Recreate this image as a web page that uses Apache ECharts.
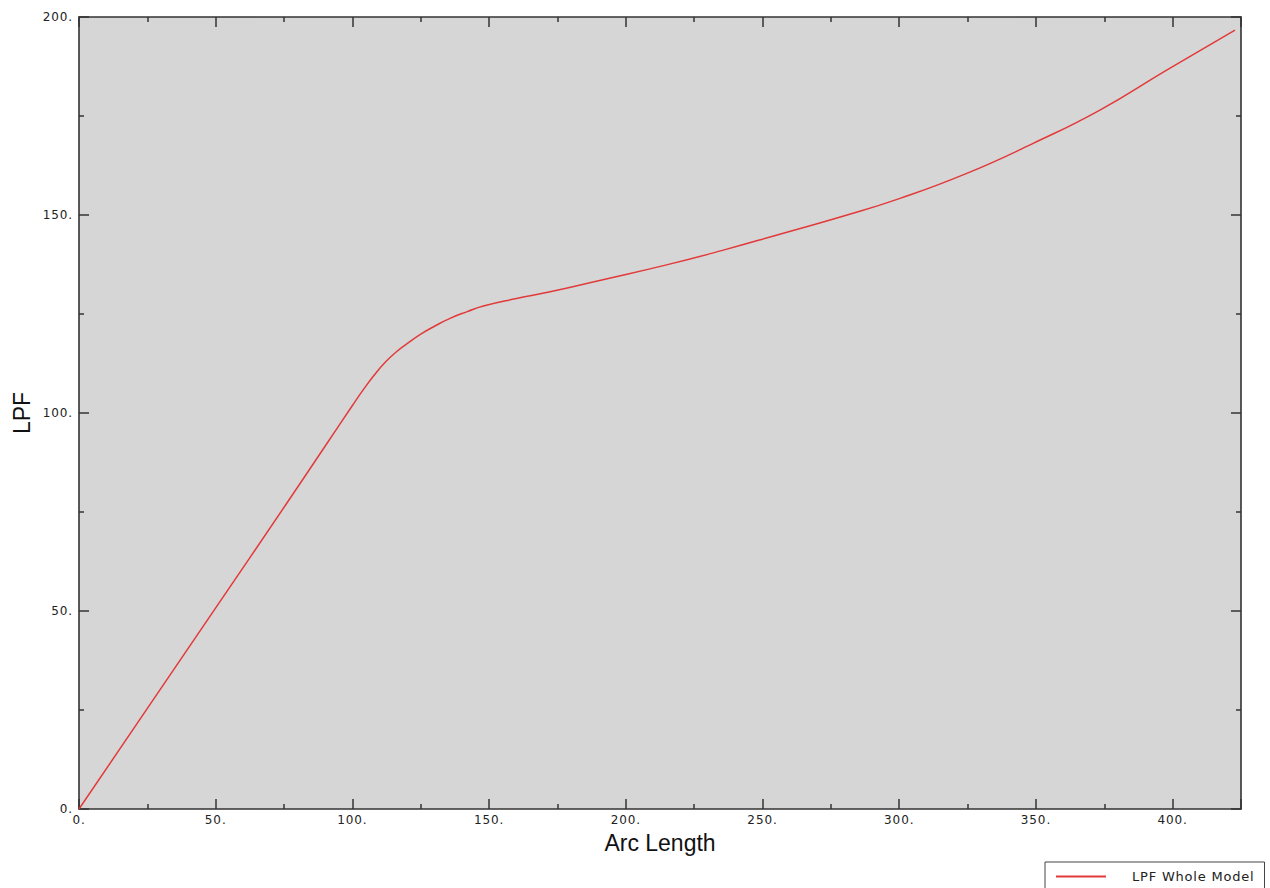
<!DOCTYPE html>
<html>
<head>
<meta charset="utf-8">
<script src="https://cdn.jsdelivr.net/npm/echarts@6/dist/echarts.min.js"></script>
<style>
html,body{margin:0;padding:0;background:#fff}
#c{width:1270px;height:888px}
#c text[style*="12px"]{letter-spacing:0.9px}
#c text[style*="13px"]{letter-spacing:0.8px}
</style>
</head>
<body>
<div id="c"></div>
<script>
var seriesName = 'LPF Whole Model';
var arcLength = [0, 25, 50, 75, 90, 100, 104, 108, 112, 116, 120, 125, 130, 135.7, 142, 147.9, 160, 172.3, 190, 214.9, 235, 257.6, 280, 300.3, 324.7, 349, 373.4, 397.8, 422.8];
var lpf       = [0, 25.4, 50.8, 76.2, 91.6, 101.9, 105.9, 109.6, 112.8, 115.4, 117.5, 119.9, 121.9, 123.9, 125.6, 127.0, 128.9, 130.6, 133.4, 137.4, 141.0, 145.4, 149.8, 154.2, 160.5, 168.1, 176.5, 186.6, 196.7];
var xTicks = [0, 50, 100, 150, 200, 250, 300, 350, 400];
var yTicks = [0, 50, 100, 150, 200];

var chart = echarts.init(document.getElementById('c'), null, {renderer: 'svg'});
var pts = arcLength.map(function (x, i) { return [x, lpf[i]]; });
var labelFont = {fontFamily: 'DejaVu Sans', fontSize: 12, color: '#222'};
var axisLine = {show: true, onZero: false, lineStyle: {color: '#333', width: 1.6}};
var tickStyle = {color: '#333', width: 1.5};
function tickFmt(v) { return v + '.'; }

chart.setOption({
  animation: false,
  backgroundColor: '#fff',
  grid: {left: 79, right: 29, top: 17, bottom: 79, show: true, backgroundColor: '#d6d6d6', borderWidth: 0},
  legend: {
    data: [seriesName],
    left: 1045, top: 862,
    padding: [8, 22, 10, 10],
    borderColor: '#444', borderWidth: 1, borderRadius: 0,
    itemWidth: 50, itemHeight: 14,
    itemStyle: {opacity: 0},
    textStyle: {fontFamily: 'DejaVu Sans', fontSize: 13, color: '#222', padding: [0, 0, 0, 21]}
  },
  xAxis: [{
    type: 'value', min: 0, max: 425, interval: 50,
    name: 'Arc Length', nameLocation: 'middle', nameGap: 22,
    nameTextStyle: {fontFamily: 'Liberation Sans', fontSize: 23, color: '#111'},
    axisLine: axisLine,
    axisTick: {show: true, inside: true, length: 10, lineStyle: tickStyle},
    minorTick: {show: true, splitNumber: 2, length: 5, lineStyle: tickStyle},
    axisLabel: Object.assign({formatter: tickFmt, margin: 5, customValues: xTicks}, labelFont),
    splitLine: {show: false}
  }, {
    type: 'value', position: 'top', min: 0, max: 425, interval: 50,
    axisLine: axisLine,
    axisTick: {show: true, inside: true, length: 10, lineStyle: tickStyle},
    minorTick: {show: true, splitNumber: 2, length: 5, lineStyle: tickStyle},
    axisLabel: {show: false}, splitLine: {show: false}
  }],
  yAxis: [{
    type: 'value', min: 0, max: 200, interval: 50,
    name: 'LPF', nameLocation: 'middle', nameGap: 46,
    nameTextStyle: {fontFamily: 'Liberation Sans', fontSize: 23, color: '#111'},
    axisLine: axisLine,
    axisTick: {show: true, inside: true, length: 10, lineStyle: tickStyle},
    minorTick: {show: true, splitNumber: 2, length: 5, lineStyle: tickStyle},
    axisLabel: Object.assign({formatter: tickFmt, margin: 6, customValues: yTicks}, labelFont),
    splitLine: {show: false}
  }, {
    type: 'value', position: 'right', min: 0, max: 200, interval: 50,
    axisLine: axisLine,
    axisTick: {show: true, inside: true, length: 10, lineStyle: tickStyle},
    minorTick: {show: true, splitNumber: 2, length: 5, lineStyle: tickStyle},
    axisLabel: {show: false}, splitLine: {show: false}
  }],
  series: [{
    name: seriesName, type: 'line', data: pts, smooth: 0.5,
    symbol: 'none', xAxisIndex: 0, yAxisIndex: 0,
    lineStyle: {color: '#e23a3a', width: 1.5}, itemStyle: {color: '#e23a3a'}
  }]
});
</script>
</body>
</html>
